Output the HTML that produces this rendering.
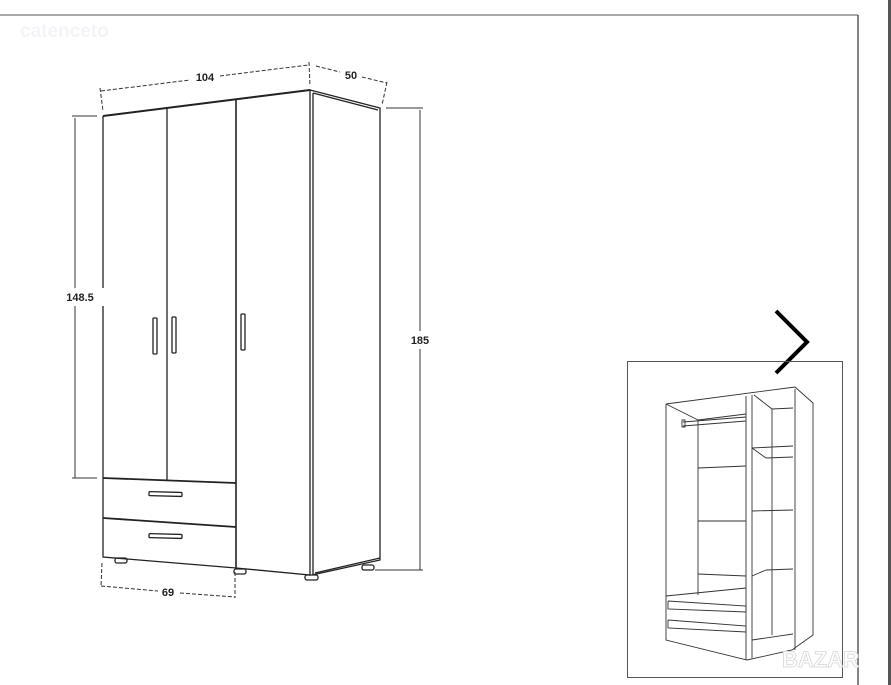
<!DOCTYPE html>
<html><head><style>
body{margin:0;background:#fff;}
svg{display:block;font-family:"Liberation Sans",Arial,sans-serif;}
</style></head><body>
<svg width="891" height="685" viewBox="0 0 891 685" xmlns="http://www.w3.org/2000/svg">
<rect width="891" height="685" fill="#fff"/>
<line x1="0" y1="15" x2="858" y2="15" stroke="#a9a9a9" stroke-width="2"/>
<line x1="858" y1="15" x2="858" y2="685" stroke="#333" stroke-width="1.2"/>
<rect x="888" y="0" width="3" height="685" fill="#555"/>
<text x="20" y="37" font-size="19" font-weight="bold" fill="#f3f4f7">catenceto</text>

<g fill="none" stroke="#222" stroke-width="1.3">
<polyline points="103,116 310,90 310,575 236,568 103,557 103,116"/>
<line x1="103" y1="116" x2="310" y2="90" stroke-width="2"/>
<line x1="167" y1="108" x2="167" y2="480"/>
<line x1="236" y1="99" x2="236" y2="568" stroke-width="1.6"/>
<line x1="103" y1="478" x2="236" y2="483" stroke-width="1.8"/>
<line x1="103" y1="518" x2="236" y2="527" stroke-width="1.8"/>
<polyline points="310,90 380,108 380,560 312,575"/>
<line x1="313" y1="93" x2="378" y2="110"/>
<line x1="313" y1="93" x2="313" y2="575"/>
<line x1="315" y1="573" x2="380" y2="558"/>
<rect x="153" y="318" width="4" height="36" rx="1"/>
<rect x="172" y="317" width="4" height="36" rx="1"/>
<rect x="241" y="314" width="4" height="36" rx="1"/>
<rect x="149" y="492" width="33" height="4" rx="1" transform="rotate(1.5 165 494)"/>
<rect x="149" y="534" width="33" height="4" rx="1" transform="rotate(1.5 165 536)"/>
<rect x="115" y="558" width="12" height="5" rx="2"/>
<rect x="234" y="569" width="12" height="5" rx="2"/>
<rect x="305" y="575" width="13" height="5" rx="2"/>
<rect x="362" y="565" width="12" height="5" rx="2"/>
</g>

<g fill="none" stroke="#333" stroke-width="1" stroke-dasharray="4,2">
<line x1="101" y1="91" x2="190" y2="80"/>
<line x1="220" y1="76" x2="308" y2="65"/>
<line x1="100" y1="88" x2="103" y2="111"/>
<line x1="309" y1="62" x2="310" y2="86"/>
<line x1="316" y1="66" x2="340" y2="72"/>
<line x1="362" y1="77" x2="387" y2="83"/>
<line x1="387" y1="82" x2="382" y2="105"/>
<line x1="102" y1="563" x2="101" y2="587"/>
<line x1="235" y1="572" x2="235" y2="598"/>
<line x1="101" y1="586" x2="158" y2="591"/>
<line x1="180" y1="593" x2="235" y2="597"/>
</g>
<g stroke="#333" stroke-width="1" fill="none">
<line x1="75" y1="118" x2="75" y2="478"/>
<line x1="72" y1="116" x2="97" y2="116"/>
<line x1="72" y1="478" x2="97" y2="478"/>
<line x1="420" y1="110" x2="420" y2="570"/>
<line x1="386" y1="108" x2="423" y2="108"/>
<line x1="375" y1="570" x2="423" y2="570"/>
</g>
<rect x="52" y="288" width="56" height="18" fill="#fff"/>
<rect x="408" y="331" width="26" height="18" fill="#fff"/>
<g font-size="11" font-weight="bold" fill="#222" text-anchor="middle">
<text x="205" y="81">104</text>
<text x="351" y="79">50</text>
<text x="80" y="301">148.5</text>
<text x="420" y="344">185</text>
<text x="168" y="596">69</text>
</g>

<polyline points="776,311 807,342 776,373" fill="none" stroke="#000" stroke-width="4"/>

<rect x="627.5" y="361.5" width="215" height="316" fill="none" stroke="#555" stroke-width="1"/>
<g fill="none" stroke="#333" stroke-width="0.9">
<polyline points="666,404 795,387 813,403 813,635 792,650 747,660 666,640 666,404"/>
<line x1="666" y1="404" x2="698" y2="420"/>
<line x1="698" y1="420" x2="746" y2="414"/>
<line x1="746" y1="396" x2="746" y2="660"/>
<line x1="752" y1="395" x2="752" y2="658"/>
<line x1="754" y1="395" x2="772" y2="409"/>
<line x1="772" y1="409" x2="793" y2="408"/>
<line x1="772" y1="409" x2="772" y2="635"/>
<line x1="795" y1="389" x2="795" y2="650"/>
<line x1="698" y1="420" x2="698" y2="595"/>
<line x1="683" y1="422" x2="746" y2="417"/>
<line x1="683" y1="426" x2="746" y2="421"/>
<rect x="682" y="420" width="3" height="7"/>
<line x1="698" y1="468" x2="746" y2="466"/>
<line x1="698" y1="521" x2="746" y2="521"/>
<line x1="698" y1="574" x2="746" y2="576"/>
<line x1="752" y1="448" x2="793" y2="446"/>
<line x1="752" y1="448" x2="766" y2="458"/>
<line x1="766" y1="458" x2="793" y2="457"/>
<line x1="752" y1="511" x2="793" y2="510"/>
<line x1="752" y1="576" x2="766" y2="570"/>
<line x1="766" y1="570" x2="793" y2="569"/>
<line x1="666" y1="596" x2="746" y2="588"/>
<polyline points="668,601 746,606 746,612 668,609 668,601"/>
<polyline points="668,620 746,626 746,632 668,628 668,620"/>
<line x1="752" y1="640" x2="793" y2="634"/>
</g>
<text x="782" y="667" font-size="22" font-weight="bold" fill="#fff" stroke="#ddd" stroke-width="1">BAZAR</text>
</svg>
</body></html>
